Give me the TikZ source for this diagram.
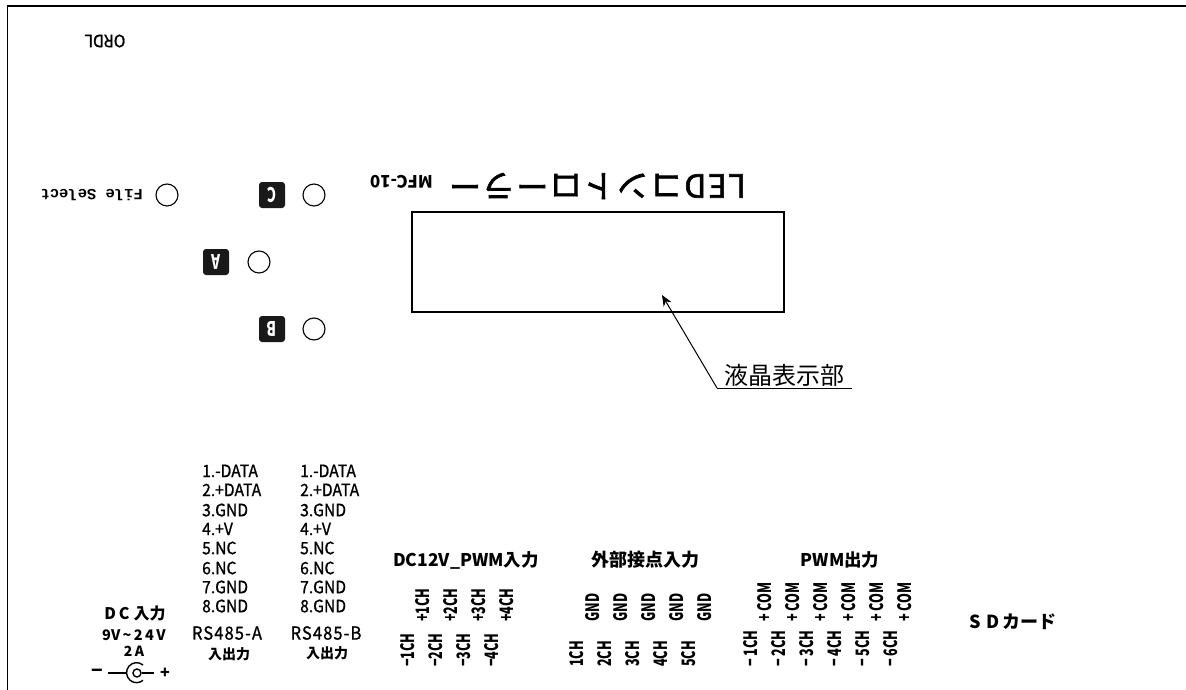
\documentclass[tikz,border=0pt]{standalone}
\usepackage{fontspec}
\usepackage{tikz}
\usetikzlibrary{arrows.meta}
\setmainfont{Noto Sans CJK JP}
\newfontfamily\listfont[FakeStretch=0.92,FakeBold=1]{Noto Sans CJK JP}
\newfontfamily\titlefont[FakeBold=2,LetterSpace=5]{Noto Sans CJK JP}
\newfontfamily\pinfont[FakeStretch=0.68]{Noto Sans CJK JP}
\newfontfamily\filefont{Liberation Mono}
\begin{document}
\begin{tikzpicture}
  [x=1pt,y=-1pt,lamp_style/.style={circle,draw,line width=1.1pt,minimum size=22pt,inner sep=0pt},
  tag_style/.style={rectangle,rounded corners=3pt,fill=black!90,text=white,minimum size=26pt,inner sep=0pt,font=\pinfont\bfseries\fontsize{20}{20}\selectfont,rotate=180},
  list_style/.style={anchor=west,inner sep=0pt,font=\listfont\fontsize{17}{17}\selectfont},
  head_style/.style={inner sep=0pt,font=\bfseries\fontsize{17.5}{17.5}\selectfont},
  pin_style/.style={anchor=west,inner sep=0pt,rotate=90,font=\pinfont\bfseries\fontsize{18.5}{18.5}\selectfont}]
  \useasboundingbox (0,0) rectangle (1186,690);
  \draw[line width=1.5pt] (7.5,690) -- (7.5,6) -- (1186,6);
  \node[inner sep=0pt,rotate=180,font=\listfont\fontsize{17}{17}\selectfont] (model) at (105,41) {ORDL};
  % lamps and tags
  \node[lamp_style] (lamp_f) at (167,195) {};
  \node[inner sep=0pt,rotate=180,anchor=west,font=\filefont\bfseries\fontsize{15.5}{15.5}\selectfont] (file_select) at (143,195) {File Select};
  \node[lamp_style] (lamp_c) at (314,195) {};
  \node[tag_style] (tag_c) at (272,195) {C};
  \node[lamp_style] (lamp_a) at (259,262) {};
  \node[tag_style] (tag_a) at (216,262) {A};
  \node[lamp_style] (lamp_b) at (314,329) {};
  \node[tag_style] (tag_b) at (272,329) {B};
  % title
  \node[inner sep=0pt,rotate=180,anchor=west,font=\titlefont\fontsize{32}{32}\selectfont] (title) at (746,186) {LEDコントローラー};
  \node[inner sep=0pt,rotate=180,anchor=west,font=\bfseries\fontsize{17}{17}\selectfont] (type) at (433,182) {MFC-10};
  % display
  \node[draw,line width=1.2pt,minimum width=372pt,minimum height=100pt,inner sep=0pt] (lcd) at (598,262) {};
  \coordinate (lcd_tip) at (662,295);
  \node[inner sep=1pt,font=\fontsize{24}{24}\selectfont,minimum width=135pt,anchor=south west] (lcd_label) at (717,388) {液晶表示部};
  \draw[line width=1pt] (lcd_label.south east) -- (lcd_label.south west);
  \draw[-{Stealth[length=11pt,width=9pt]},line width=1pt] (lcd_label.south west) -- (lcd_tip);
  % RS485
  \foreach \x/\n in {202/a,300/b} {
    \foreach \i/\t/\y in {1/1.-DATA/471,2/2.+DATA/490,3/3.GND/510,4/4.+V/529,5/5.NC/548,6/6.NC/568,7/7.GND/587,8/8.GND/606}
      \node[list_style] (rs_\n\i) at (\x,\y) {\t};
  }
  \node[inner sep=0pt,font=\listfont\addfontfeature{LetterSpace=6}\fontsize{18}{18}\selectfont] (rs_a) at (227,633) {RS485-A};
  \node[inner sep=0pt,font=\listfont\addfontfeature{LetterSpace=6}\fontsize{18}{18}\selectfont] (rs_b) at (326,633) {RS485-B};
  \node[inner sep=0pt,font=\bfseries\fontsize{14}{14}\selectfont] (io_a) at (229,654) {入出力};
  \node[inner sep=0pt,font=\bfseries\fontsize{14}{14}\selectfont] (io_b) at (327,653) {入出力};
  % DC jack
  \node[inner sep=0pt,font=\bfseries\fontsize{16}{16}\selectfont] (dc_in) at (135,613) {D\hspace{3pt}C\hspace{4pt}入力};
  \node[inner sep=0pt,font=\bfseries\fontsize{14.5}{14.5}\selectfont] (dc_v) at (134,635) {9V\,\textasciitilde\,2\,4\,V};
  \node[inner sep=0pt,font=\bfseries\fontsize{14}{14}\selectfont] (dc_a) at (134,651) {2\,A};
  \node[inner sep=0pt,font=\bfseries\fontsize{19}{19}\selectfont] (dc_minus) at (97,673) {−};
  \node[inner sep=0pt,font=\bfseries\fontsize{16}{16}\selectfont] (dc_plus) at (165,673) {+};
  \node[circle,draw,line width=1.4pt,minimum size=8pt,inner sep=0pt] (jack) at (137,673) {};
  \coordinate (jack_l) at (126,673);
  \coordinate (jack_wire) at (108,673);
  \coordinate (jack_r) at (154,673);
  \draw[line width=1.4pt] (jack_wire) -- (jack_l);
  \draw[line width=1.4pt] (jack) -- (jack_r);
  \draw[line width=1.4pt] (143,665) arc (-50:-310:10);
  % group headings
  \node[head_style] (pwm_in) at (466,560) {DC12V\_PWM入力};
  \node[head_style,font=\bfseries\fontsize{18}{18}\selectfont] (contact_in) at (645,560) {外部接点入力};
  \node[head_style] (pwm_out) at (840,560) {PWM出力};
  \node[head_style,font=\bfseries\fontsize{18}{18}\selectfont] (sd_card) at (1013,622) {S\hspace{5pt}D\hspace{3pt}カード};
  % terminal labels
  \foreach \i/\x in {1/423,2/451,3/479,4/507}
    \node[pin_style] (pi\i) at (\x,622) {+\i CH};
  \foreach \i/\x in {1/408,2/436,3/464,4/492}
    \node[pin_style] (mi\i) at (\x,667) {−\i CH};
  \foreach \i/\x in {1/593,2/621,3/649,4/677,5/705}
    \node[pin_style] (gnd\i) at (\x,622) {GND};
  \foreach \i/\x in {1/577,2/605,3/633,4/661,5/689}
    \node[pin_style] (ct\i) at (\x,667) {\i CH};
  \foreach \i/\x in {1/765,2/793,3/821,4/849,5/877,6/905}
    \node[pin_style] (com\i) at (\x,622) {+\,COM};
  \foreach \i/\x in {1/751,2/779,3/807,4/835,5/863,6/891}
    \node[pin_style] (mo\i) at (\x,667) {−\,\i CH};
\end{tikzpicture}
\end{document}
